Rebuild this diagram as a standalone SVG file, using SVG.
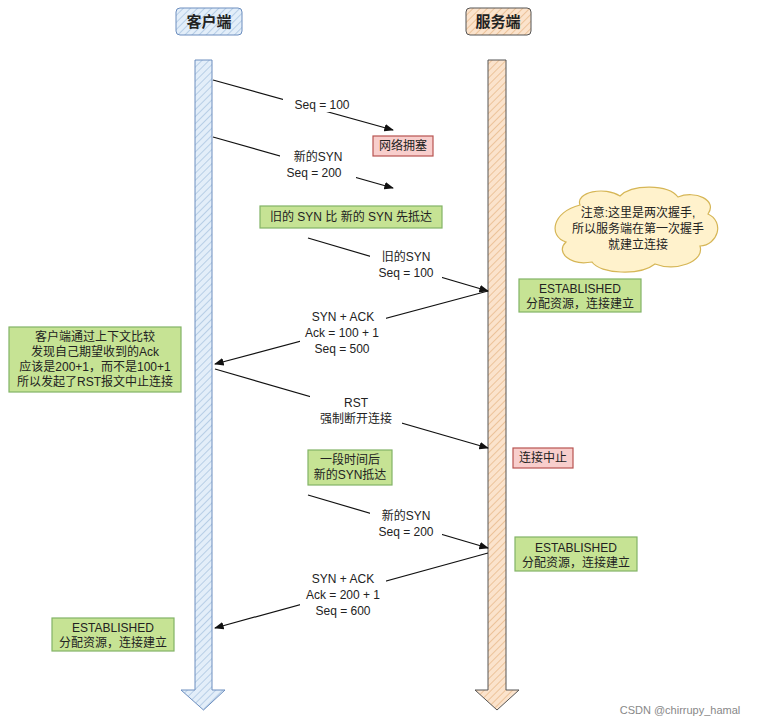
<svg xmlns="http://www.w3.org/2000/svg" width="770" height="723" viewBox="0 0 770 723">
<defs>
<marker id="ah" viewBox="0 0 10 10" refX="9" refY="5" markerWidth="8" markerHeight="8" orient="auto"><path d="M0,1 L10,5 L0,9 Z" fill="#111"/></marker>
<pattern id="hb" width="5" height="5" patternUnits="userSpaceOnUse" patternTransform="rotate(45)"><rect width="5" height="5" fill="#e3eef9"/><line x1="0" y1="0" x2="0" y2="5" stroke="#a9c4e0" stroke-width="1.5"/></pattern>
<pattern id="ho" width="5" height="5" patternUnits="userSpaceOnUse" patternTransform="rotate(45)"><rect width="5" height="5" fill="#fbe3cc"/><line x1="0" y1="0" x2="0" y2="5" stroke="#e8b889" stroke-width="1.5"/></pattern>
</defs>
<style>
text{font-family:"Liberation Sans","Noto Sans CJK SC",sans-serif;font-size:12px;fill:#222;text-anchor:middle}
.t{font-size:15px;font-weight:bold}
.g{fill:#c6e394;stroke:#82b366;stroke-width:1.2}
.p{fill:#f8cecc;stroke:#b85450;stroke-width:1.2}
.m{fill:none;stroke:#111;stroke-width:1.2;marker-end:url(#ah)}
.lab{fill:#fff}
</style>
<rect width="770" height="723" fill="#fff"/>
<g id="client">
<rect x="176" y="8" width="66" height="27" rx="4" fill="url(#hb)" stroke="#6c8ebf"/>
<text class="t" x="209" y="27">客户端</text>
<path d="M195,60 H212 V690 H225 L203.5,710 L181,690 H195 Z" fill="url(#hb)" stroke="#6c8ebf"/>
</g>
<g id="server">
<rect x="466" y="8" width="65" height="27" rx="4" fill="url(#ho)" stroke="#555"/>
<text class="t" x="498" y="27">服务端</text>
<path d="M488,60 H506 V690 H519 L497,710 L475,690 H488 Z" fill="url(#ho)" stroke="#555"/>
</g>
<g id="connectors">
<line class="m" x1="213" y1="80" x2="393" y2="130"/>
<line class="m" x1="213" y1="137" x2="393" y2="188"/>
<line class="m" x1="308" y1="238" x2="488" y2="291"/>
<line class="m" x1="488" y1="291" x2="215" y2="364"/>
<line class="m" x1="215" y1="369" x2="488" y2="448"/>
<line class="m" x1="308" y1="495" x2="488" y2="548"/>
<line class="m" x1="488" y1="553" x2="215" y2="628"/>
</g>
<g id="labels">
<rect class="lab" x="283" y="96" width="78" height="16"/><text x="322" y="109">Seq = 100</text>
<rect class="lab" x="280" y="148" width="76" height="32"/><text x="318" y="161">新的SYN</text><text x="314" y="177">Seq = 200</text>
<rect class="lab" x="370" y="248" width="72" height="32"/><text x="406" y="261">旧的SYN</text><text x="406" y="277">Seq = 100</text>
<rect class="lab" x="300" y="309" width="86" height="46"/><text x="343" y="321">SYN + ACK</text><text x="342" y="337">Ack = 100 + 1</text><text x="342" y="353">Seq = 500</text>
<rect class="lab" x="310" y="394" width="92" height="32"/><text x="356" y="407">RST</text><text x="356" y="423">强制断开连接</text>
<rect class="lab" x="370" y="507" width="72" height="32"/><text x="406" y="520">新的SYN</text><text x="406" y="536">Seq = 200</text>
<rect class="lab" x="300" y="571" width="86" height="46"/><text x="343" y="583">SYN + ACK</text><text x="343" y="599">Ack = 200 + 1</text><text x="343" y="615">Seq = 600</text>
</g>
<g id="congest"><rect class="p" x="373" y="136" width="60" height="20"/><text x="403" y="150">网络拥塞</text></g>
<g id="old-first"><rect class="g" x="260" y="206" width="182" height="22"/><text x="351" y="221">旧的 SYN 比 新的 SYN 先抵达</text></g>
<g id="note"><path d="M580,205 C575,192 605,186 620,196 C632,184 668,184 678,197 C695,190 718,200 708,214 C725,222 718,245 700,246 C705,262 675,272 655,264 C640,276 600,274 592,262 C570,266 555,252 566,242 C548,236 552,212 580,205 Z" fill="#fff2cc" stroke="#d6b656" stroke-width="1.2"/>
<text x="638" y="217">注意:这里是两次握手,</text><text x="638" y="233">所以服务端在第一次握手</text><text x="638" y="249">就建立连接</text></g>
<g id="est1"><rect class="g" x="519" y="279" width="122" height="33"/><text x="580" y="293">ESTABLISHED</text><text x="580" y="308">分配资源，连接建立</text></g>
<g id="reason"><rect class="g" x="9" y="327" width="172" height="65"/><text x="95" y="341">客户端通过上下文比较</text><text x="95" y="356">发现自己期望收到的Ack</text><text x="95" y="371">应该是200+1，而不是100+1</text><text x="95" y="386">所以发起了RST报文中止连接</text></g>
<g id="abort"><rect class="p" x="513" y="448" width="60" height="20"/><text x="543" y="462">连接中止</text></g>
<g id="later"><rect class="g" x="308" y="450" width="84" height="35"/><text x="350" y="464">一段时间后</text><text x="350" y="479">新的SYN抵达</text></g>
<g id="est2"><rect class="g" x="515" y="537" width="122" height="34"/><text x="576" y="552">ESTABLISHED</text><text x="576" y="567">分配资源，连接建立</text></g>
<g id="est3"><rect class="g" x="52" y="618" width="122" height="33"/><text x="113" y="632">ESTABLISHED</text><text x="113" y="647">分配资源，连接建立</text></g>
<text x="680" y="714" style="fill:#888;font-size:11px">CSDN @chirrupy_hamal</text>
</svg>
